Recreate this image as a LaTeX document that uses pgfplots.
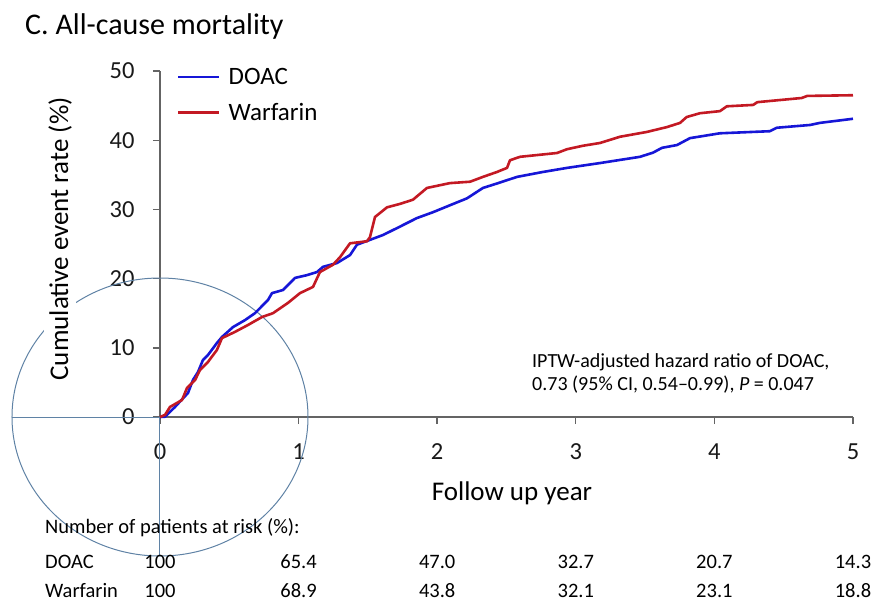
\documentclass[border=0pt]{standalone}
\usepackage{pgfplots}
\pgfplotsset{compat=1.18}
\usepackage{fontspec}
\setmainfont{Carlito}
\definecolor{doac}{RGB}{22,22,215}
\definecolor{warf}{RGB}{195,25,35}
\definecolor{circ}{RGB}{95,130,165}
\definecolor{axgray}{RGB}{100,100,100}
\begin{document}
\begin{tikzpicture}
\useasboundingbox (-160pt,-189pt) rectangle (713pt,417pt);
\begin{axis}[
  at={(0pt,0pt)}, anchor=south west,
  scale only axis, width=693pt, height=346pt,
  xmin=0, xmax=5, ymin=0, ymax=50,
  axis lines*=left,
  axis line style={axgray, line width=1.4pt, -},
  xtick={0,1,2,3,4,5}, ytick={0,10,20,30,40,50},
  tick align=outside, major tick length=7pt,
  tick style={axgray, line width=1.4pt},
  tick label style={font=\fontsize{24.5}{28}\selectfont, text=black!90},
  yticklabel style={xshift=-15pt},
  xticklabel style={yshift=-16pt},
  /pgf/number format/assume math mode=true,
  clip=false,
  legend cell align=left,
  legend style={at={(0.02,1.02)}, anchor=north west, draw=none, fill=none,
    font=\fontsize{25}{29}\selectfont, row sep=13pt,
    nodes={inner xsep=8pt}},
  legend image code/.code={\draw[#1] (0pt,0pt) -- (41pt,0pt);},
]
\draw[circ, line width=1pt] (axis cs:0,0) ellipse [x radius=148pt, y radius=139pt];
\draw[circ, line width=1pt] (axis cs:0,0) -- ++(-148pt,0pt);
\draw[circ, line width=1pt] (axis cs:0,0) -- ++(0pt,-139pt);
\addplot[doac, line width=2.6pt, line join=round] coordinates {
(0,0) (0.036,0.04) (0.108,1.45) (0.202,3.47) (0.238,5.36) (0.274,6.5) (0.31,8.24)
(0.346,8.96) (0.411,10.7) (0.447,11.56) (0.527,13.0) (0.613,14.0) (0.685,15.0)
(0.779,16.9) (0.808,17.9) (0.887,18.35) (0.974,20.1) (1.06,20.5) (1.133,20.95)
(1.176,21.7) (1.277,22.25) (1.371,23.4) (1.421,24.9) (1.515,25.6) (1.609,26.3)
(1.71,27.3) (1.854,28.75) (1.97,29.6) (2.092,30.6) (2.215,31.6) (2.33,33.1)
(2.44,33.8) (2.576,34.7) (2.76,35.4) (2.937,36.0) (3.175,36.7) (3.463,37.6)
(3.557,38.2) (3.622,38.9) (3.73,39.3) (3.824,40.3) (4.04,41.0) (4.40,41.3)
(4.45,41.8) (4.69,42.2) (4.76,42.5) (5.0,43.1)
};
\addlegendentry{DOAC}
\addplot[warf, line width=2.6pt, line join=round] coordinates {
(0,0) (0.036,0.3) (0.072,1.45) (0.159,2.46) (0.195,4.2) (0.253,5.35) (0.289,6.8)
(0.346,7.95) (0.411,9.7) (0.447,11.4) (0.541,12.3) (0.635,13.3) (0.736,14.45)
(0.815,15.0) (0.924,16.5) (1.01,17.9) (1.104,18.8) (1.154,20.95) (1.248,22.0)
(1.299,23.1) (1.371,25.1) (1.494,25.4) (1.515,26.0) (1.551,28.9) (1.638,30.3)
(1.732,30.8) (1.825,31.4) (1.926,33.1) (2.092,33.8) (2.237,34.0) (2.33,34.7)
(2.43,35.4) (2.504,36.0) (2.525,37.1) (2.597,37.6) (2.864,38.15) (2.937,38.7)
(3.052,39.2) (3.175,39.6) (3.319,40.5) (3.514,41.2) (3.658,41.9) (3.752,42.5)
(3.80,43.35) (3.896,43.9) (4.04,44.2) (4.09,44.9) (4.28,45.1) (4.31,45.5)
(4.63,46.1) (4.67,46.4) (5.0,46.5)
};
\addlegendentry{Warfarin}
\end{axis}
\node[rotate=90, fill=white, inner sep=4pt, font=\fontsize{27}{32}\selectfont] at (-100pt,178pt) {Cumulative event rate (\%)};
\node[font=\fontsize{27}{32}\selectfont] at (352pt,-76pt) {Follow up year};
\node[anchor=base west, inner sep=0pt, font=\fontsize{30}{36}\selectfont] at (-135pt,382pt) {C. All-cause mortality};
\node[anchor=base west, inner sep=0pt, font=\fontsize{20}{24}\selectfont] at (372pt,50pt) {IPTW-adjusted hazard ratio of DOAC,};
\node[anchor=base west, inner sep=0pt, font=\fontsize{20}{24}\selectfont] at (372pt,27pt) {0.73 (95\% CI, 0.54--0.99), \textit{P} = 0.047};
\begin{scope}[every node/.style={font=\fontsize{20.5}{24}\selectfont, inner sep=0pt}]
\node[anchor=base west] at (-115pt,-116pt) {Number of patients at risk (\%):};
\node[anchor=base west] at (-115pt,-151pt) {DOAC};
\node[anchor=base west] at (-115pt,-180pt) {Warfarin};
\node[anchor=base] at (0pt,-151pt) {100};
\node[anchor=base] at (138.6pt,-151pt) {65.4};
\node[anchor=base] at (277.2pt,-151pt) {47.0};
\node[anchor=base] at (415.8pt,-151pt) {32.7};
\node[anchor=base] at (554.4pt,-151pt) {20.7};
\node[anchor=base] at (693pt,-151pt) {14.3};
\node[anchor=base] at (0pt,-180pt) {100};
\node[anchor=base] at (138.6pt,-180pt) {68.9};
\node[anchor=base] at (277.2pt,-180pt) {43.8};
\node[anchor=base] at (415.8pt,-180pt) {32.1};
\node[anchor=base] at (554.4pt,-180pt) {23.1};
\node[anchor=base] at (693pt,-180pt) {18.8};
\end{scope}
\end{tikzpicture}
\end{document}
